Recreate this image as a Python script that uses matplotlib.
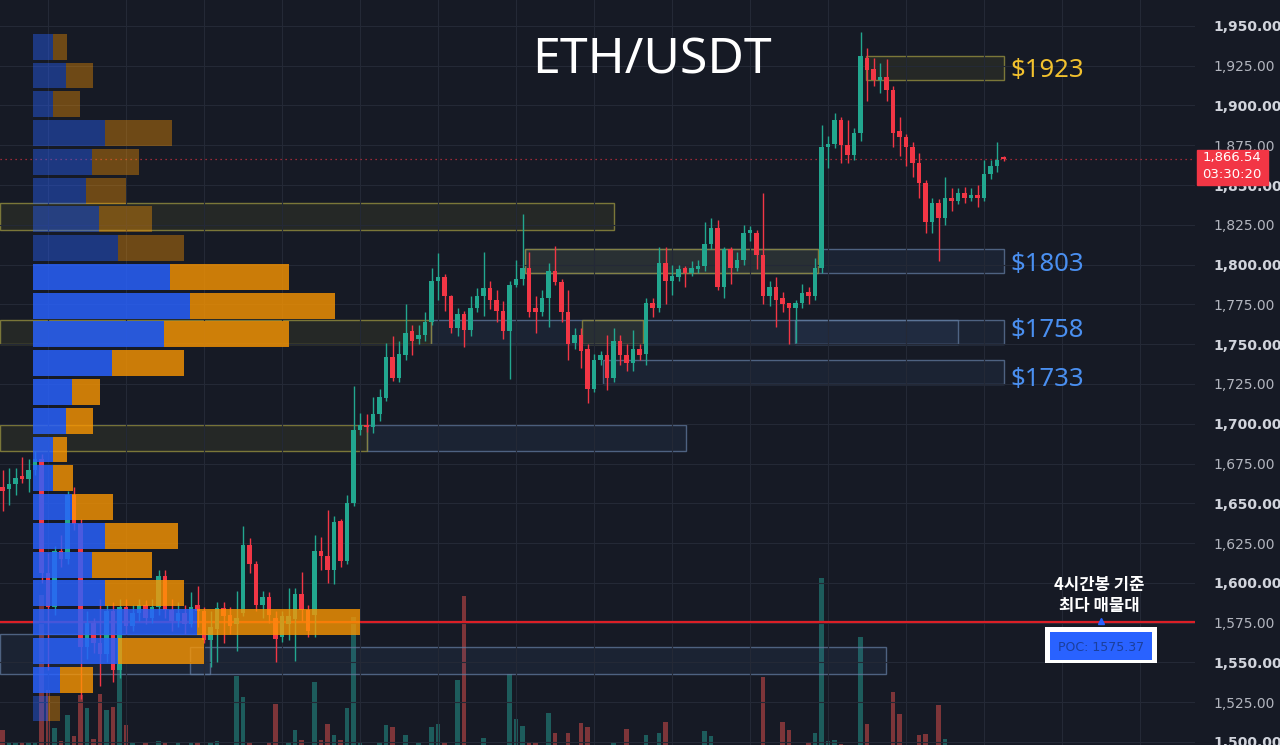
import matplotlib
matplotlib.use('Agg')
import matplotlib.pyplot as plt
import matplotlib.transforms as mtransforms
from matplotlib.patches import Rectangle
import numpy as np

# 4시간봉 OHLC
opens = [1660, 1659, 1662, 1667, 1665, 1671, 1678, 1606, 1585, 1620,
         1615, 1655, 1637, 1560, 1575, 1562, 1555, 1582, 1545, 1585,
         1573, 1581, 1586, 1578, 1585, 1604, 1583, 1576, 1581, 1574,
         1586, 1582, 1564, 1571, 1584, 1580, 1574, 1581, 1624, 1612,
         1586, 1591, 1578, 1566, 1574, 1577, 1593, 1583, 1580, 1620,
         1617, 1608, 1639, 1614, 1650, 1696, 1699, 1698, 1706, 1716,
         1742, 1729, 1743, 1758, 1753, 1756, 1764, 1790, 1792, 1780,
         1760, 1769, 1759, 1773, 1780, 1785, 1778, 1771, 1758, 1787,
         1791, 1798, 1773, 1770, 1779, 1796, 1789, 1770, 1751, 1756,
         1747, 1722, 1740, 1743, 1729, 1752, 1743, 1738, 1747, 1744,
         1776, 1773, 1801, 1790, 1792, 1798, 1795, 1797, 1799, 1813,
         1823, 1786, 1810, 1798, 1803, 1820, 1820, 1806, 1780, 1786,
         1779, 1776, 1773, 1776, 1783, 1780, 1798, 1874, 1876, 1891,
         1875, 1869, 1883, 1930, 1923, 1916, 1918, 1910, 1884, 1880,
         1874, 1864, 1851, 1827, 1839, 1829, 1842, 1840, 1845, 1842,
         1844, 1842, 1857, 1862, 1867.5]
highs = [1671, 1672, 1672, 1679, 1678, 1683, 1681, 1619, 1623, 1630,
         1658, 1660, 1640, 1582, 1578, 1590, 1586, 1588, 1590, 1590,
         1586, 1590, 1589, 1590, 1608, 1608, 1590, 1588, 1586, 1594,
         1598, 1585, 1582, 1588, 1588, 1585, 1595, 1636, 1628, 1614,
         1595, 1594, 1582, 1582, 1597, 1597, 1607, 1586, 1630, 1629,
         1646, 1642, 1640, 1655, 1724, 1707, 1706, 1717, 1722, 1751,
         1755, 1752, 1775, 1762, 1762, 1770, 1798, 1807, 1794, 1781,
         1773, 1771, 1780, 1785, 1808, 1790, 1784, 1777, 1790, 1803,
         1832, 1808, 1780, 1784, 1801, 1812, 1791, 1784, 1760, 1760,
         1750, 1744, 1746, 1756, 1760, 1756, 1750, 1759, 1750, 1779,
         1779, 1811, 1811, 1800, 1800, 1799, 1802, 1803, 1827, 1829,
         1828, 1811, 1811, 1808, 1825, 1824, 1822, 1845, 1790, 1792,
         1783, 1776, 1778, 1788, 1786, 1804, 1888, 1881, 1895, 1893,
         1891, 1886, 1946, 1936, 1930, 1927, 1929, 1912, 1893, 1882,
         1877, 1870, 1853, 1842, 1841, 1855, 1848, 1848, 1849, 1848,
         1850, 1866, 1866, 1877, 1868]
lows = [1645, 1649, 1655, 1663, 1657, 1668, 1600, 1545, 1580, 1610,
        1612, 1633, 1527, 1552, 1556, 1535, 1550, 1538, 1540, 1568,
        1570, 1576, 1574, 1575, 1580, 1578, 1570, 1572, 1568, 1572,
        1572, 1562, 1547, 1550, 1562, 1568, 1557, 1579, 1606, 1582,
        1578, 1575, 1550, 1563, 1564, 1551, 1576, 1566, 1566, 1608,
        1600, 1599, 1610, 1612, 1648, 1693, 1695, 1694, 1702, 1714,
        1727, 1726, 1740, 1743, 1750, 1752, 1762, 1778, 1771, 1757,
        1755, 1748, 1755, 1770, 1768, 1772, 1764, 1753, 1728, 1786,
        1787, 1767, 1757, 1768, 1761, 1787, 1764, 1740, 1747, 1735,
        1713, 1720, 1737, 1721, 1726, 1737, 1733, 1733, 1740, 1737,
        1767, 1770, 1775, 1781, 1790, 1786, 1793, 1795, 1796, 1810,
        1784, 1779, 1788, 1796, 1800, 1815, 1797, 1775, 1774, 1761,
        1770, 1750, 1751, 1773, 1775, 1778, 1795, 1861, 1873, 1864,
        1864, 1866, 1878, 1903, 1912, 1908, 1903, 1874, 1868, 1862,
        1855, 1842, 1820, 1820, 1802, 1825, 1834, 1838, 1839, 1840,
        1836, 1840, 1854, 1858, 1865]
closes = [1658, 1662, 1666, 1665, 1671, 1678, 1606, 1585, 1620, 1615,
          1655, 1637, 1560, 1575, 1562, 1555, 1582, 1545, 1585, 1573,
          1581, 1586, 1578, 1585, 1604, 1583, 1576, 1581, 1574, 1585,
          1582, 1564, 1572, 1584, 1579, 1573, 1578, 1624, 1612, 1586,
          1591, 1580, 1565, 1579, 1579, 1593, 1583, 1570, 1620, 1617,
          1608, 1638, 1614, 1650, 1696, 1699, 1698, 1706, 1717, 1742,
          1729, 1744, 1757, 1752, 1756, 1764, 1790, 1792, 1780, 1760,
          1769, 1759, 1773, 1780, 1785, 1778, 1771, 1758, 1787, 1791,
          1798, 1770, 1770, 1779, 1796, 1789, 1770, 1750, 1756, 1746,
          1722, 1740, 1743, 1729, 1752, 1743, 1738, 1747, 1743, 1776,
          1773, 1801, 1790, 1793, 1797, 1795, 1798, 1799, 1813, 1823,
          1786, 1810, 1798, 1803, 1820, 1822, 1806, 1780, 1786, 1778,
          1775, 1773, 1776, 1782, 1780, 1798, 1874, 1876, 1891, 1875,
          1869, 1883, 1931, 1922, 1916, 1918, 1910, 1883, 1880, 1874,
          1864, 1851, 1827, 1839, 1829, 1842, 1840, 1845, 1842, 1844,
          1842, 1857, 1862, 1866, 1866.54]
volumes = [15, 3, 2, 2, 2, 2, 150, 55, 17, 4,
           30, 9, 50, 37, 6, 51, 35, 38, 78, 20,
           3, 0, 3, 0, 4, 3, 0, 3, 0, 3,
           3, 0, 3, 4, 0, 0, 69, 48, 3, 0,
           0, 3, 41, 0, 3, 15, 5, 0, 63, 5,
           21, 10, 5, 37, 128, 3, 0, 0, 3, 20,
           18, 0, 10, 0, 2, 0, 18, 21, 2, 0,
           65, 149, 0, 0, 7, 0, 0, 0, 71, 26,
           19, 2, 2, 0, 32, 12, 0, 12, 0, 22,
           18, 0, 0, 0, 2, 0, 16, 0, 0, 10,
           0, 12, 23, 0, 0, 0, 0, 0, 14, 9,
           0, 0, 0, 0, 0, 0, 0, 68, 0, 0,
           23, 15, 0, 0, 3, 12, 167, 4, 5, 1,
           0, 0, 108, 21, 0, 0, 0, 53, 31, 0,
           0, 10, 11, 0, 40, 6, 0, 0, 0, 0,
           0, 0, 0, 0, 0]

# 매물대 (위에서 아래로, 매수/매도 폭)
vp_buy = [20, 33, 20, 72, 59, 53, 66, 85, 137, 157, 131, 79,
          39, 33, 20, 20, 39, 72, 59, 72, 164, 85, 27, 15]
vp_sell = [14, 27, 27, 67, 47, 40, 53, 66, 119, 145, 125, 72,
           28, 27, 14, 20, 41, 73, 60, 79, 163, 86, 33, 12]
vp_in_value_area = [False] * 8 + [True] * 15 + [False]
vp_top = 1946.0
vp_bottom = 1512.0

# 지지/저항 박스 (시작 봉, 끝 봉, 하단, 상단, 종류)
zone_start = [132.8, -0.4, 80.4, 80.4, 65.9, -0.4, 89.2, 121.9, 92.4, 56.1, -0.4, 28.8, -0.4]
zone_end = [154.1, 94.1, 154.1, 125.5, 154.1, 65.9, 98.5, 147.0, 154.1, 105.2, 56.1, 135.9, 31.9]
zone_lo = [1916, 1822, 1795, 1795, 1750, 1750, 1750, 1750, 1725, 1683, 1683, 1543, 1543]
zone_hi = [1931, 1839, 1810, 1810, 1765, 1765, 1765, 1765, 1740, 1699, 1699, 1560, 1568]
zone_kind = ['y', 'y', 'b', 'y', 'b', 'y', 'y', 'b', 'b', 'b', 'y', 'b', 'b']

level_text = ['$1923', '$1803', '$1758', '$1733']
level_kind = ['y', 'b', 'b', 'b']

poc_price = 1575.37
last_price = 1866.54
countdown = '03:30:20'

bg = '#161a25'
up_col = '#22a78f'
dn_col = '#f23645'
rect = [0, 0, 1195 / 1280, 1]
xl = (-0.385, 183.46)
yl = (1498.1, 1966.3)
label_y = [1922.3, 1799.8, 1758.9, 1728.1]  # 라벨 세로 위치

fig = plt.figure(figsize=(12.8, 7.45), dpi=100, facecolor=bg)

# 거래량 (맨 아래)
axv = fig.add_axes(rect, zorder=1)
axv.set_facecolor(bg)
axv.set_xlim(*xl)
axv.set_ylim(0, 745)
axv.axis('off')
idx = np.arange(len(opens))
o = np.array(opens, float)
c = np.array(closes, float)
up = c >= o
axv.bar(idx, volumes, width=0.74, color=np.where(up, '#26a69a', '#ef5350'), alpha=0.48)

# 가격 차트
ax = fig.add_axes(rect, zorder=2)
ax.patch.set_alpha(0)
ax.set_xlim(*xl)
ax.set_ylim(*yl)
for s in ax.spines.values():
    s.set_visible(False)
ax.set_xticks(np.arange(7, 184, 12))
ax.set_yticks(np.arange(1500, 1951, 25))
ax.yaxis.tick_right()
ax.tick_params(axis='x', length=0, labelbottom=False)
ax.tick_params(axis='y', length=0, pad=13, labelsize=10)
ax.set_yticklabels([f'{v:,.2f}' for v in np.arange(1500, 1951, 25)])
for lab, v in zip(ax.get_yticklabels(), np.arange(1500, 1951, 25)):
    if v % 50 == 0:
        lab.set_fontweight('bold')
        lab.set_color('#d1d4dc')
    else:
        lab.set_color('#b2b5be')
ax.grid(True, color='#242936', lw=0.8, zorder=0)

for x0, x1, lo, hi, k in zip(zone_start, zone_end, zone_lo, zone_hi, zone_kind):
    if k == 'y':
        fc, ec = (0.55, 0.55, 0.2, 0.13), (0.55, 0.53, 0.24, 0.85)
    else:
        fc, ec = (0.3, 0.47, 0.7, 0.10), (0.38, 0.48, 0.62, 0.75)
    ax.add_patch(Rectangle((x0, lo), x1 - x0, hi - lo, facecolor=fc, edgecolor=ec, lw=1, zorder=1))

ax.axhline(poc_price, color='#dc1f26', lw=1.6, zorder=2)
ax.axhline(last_price, color='#f23645', lw=0.9, ls=(0, (1, 3)), alpha=0.8, zorder=2)

cols = np.where(up, up_col, dn_col)
ax.vlines(idx, lows, highs, colors=cols, lw=1, zorder=3)
ax.bar(idx, np.maximum(np.abs(c - o), 0.7), bottom=np.minimum(o, c), width=0.74, color=cols, zorder=4)

for t, p, k in zip(level_text, label_y, level_kind):
    ax.text(155.0, p, t, color='#f2c12e' if k == 'y' else '#4a8ff0', fontsize=18.5,
            family='Noto Sans', ha='left', va='center', zorder=6)

# 현재가 라벨
blend = mtransforms.blended_transform_factory(fig.transFigure, ax.transData)
ax.add_patch(Rectangle((1197 / 1280, last_price - 16.5), 71 / 1280, 22, transform=blend,
                       color='#f23645', clip_on=False, zorder=10))
ax.text(1232 / 1280, last_price + 0.5, f'{last_price:,.2f}', transform=blend, color='white',
        fontsize=9.5, ha='center', va='center', zorder=11, clip_on=False)
ax.text(1232 / 1280, last_price - 9.8, countdown, transform=blend, color='white',
        fontsize=9.5, ha='center', va='center', zorder=11, clip_on=False)

# POC 라벨
ax.text(168.8, poc_price + 16.8, '4시간봉 기준\n최다 매물대', color='white', fontsize=12,
        fontweight='bold', family=['Noto Sans CJK KR', 'DejaVu Sans'], ha='center', va='center',
        linespacing=1.25, zorder=6)
ax.add_patch(Rectangle((160.4, poc_price - 25.8), 17.2, 22.6, facecolor='white', edgecolor='none', zorder=6))
ax.add_patch(Rectangle((161.2, poc_price - 23.9), 15.7, 17.6, facecolor='#2962ff', edgecolor='none', zorder=7))
ax.text(169.0, poc_price - 15.8, f'POC: {poc_price:.2f}', color='#1b3f9c', fontsize=9,
        ha='center', va='center', zorder=8)
ax.plot([169.0], [poc_price + 0.8], marker='^', ms=4, color='#2962ff', zorder=8)

# 매물대 프로파일
axp = fig.add_axes(rect, zorder=3)
axp.patch.set_alpha(0)
axp.set_xlim(-33, 1162)
axp.set_ylim(*yl)
axp.axis('off')
edges = np.linspace(vp_top, vp_bottom, len(vp_buy) + 1)
centers = (edges[:-1] + edges[1:]) / 2
row_h = (vp_top - vp_bottom) / len(vp_buy)
for yc, b, s, va in zip(centers, vp_buy, vp_sell, vp_in_value_area):
    a_b, a_s = (0.83, 0.78) if va else (0.42, 0.38)
    axp.barh(yc, b, height=row_h * 0.9, left=0, color='#2962ff', alpha=a_b)
    axp.barh(yc, s, height=row_h * 0.9, left=b, color='#ff9800', alpha=a_s)

fig.text(652 / 1280, 1 - 60 / 745, 'ETH/USDT', color='white', fontsize=36,
         family='Noto Sans', fontweight='medium', ha='center', va='center', zorder=20)

fig.savefig('out.png', dpi=100, facecolor=bg)
